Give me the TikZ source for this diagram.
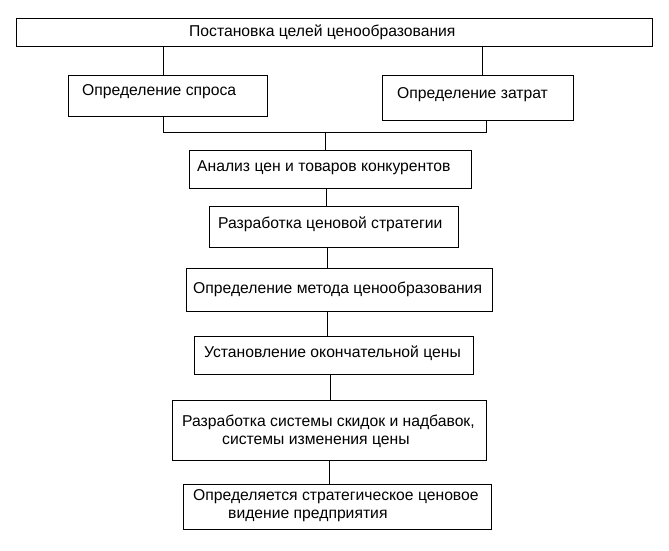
\documentclass[tikz,border=0pt]{standalone}
\usepackage{fontspec}
\setmainfont{Liberation Sans}
\usepackage{tikz}

\tikzset{
    blok/.style={draw,line width=1pt,inner sep=0pt,outer sep=0pt},
    tekst/.style={anchor=west,inner sep=0pt,align=left}
}

\begin{document}
\begin{tikzpicture}[x=1pt,y=-1pt,font=\fontsize{15.7}{18}\selectfont]
    \useasboundingbox (0,0) rectangle (669,550);

    % Рамки блоков.
    \node[blok,minimum width=636,minimum height=28] (cel) at (334,32) {};
    \node[blok,minimum width=199,minimum height=41] (spros) at (167.5,95.5) {};
    \node[blok,minimum width=191,minimum height=45] (zatr) at (477.5,97.5) {};
    \node[blok,minimum width=282,minimum height=38] (analiz) at (330,169) {};
    \node[blok,minimum width=249,minimum height=41] (strat) at (333.5,226.5) {};
    \node[blok,minimum width=306,minimum height=43] (metod) at (339,289.5) {};
    \node[blok,minimum width=279,minimum height=38] (cena) at (333.5,355) {};
    \node[blok,minimum width=314,minimum height=60] (skid) at (329,430) {};
    \node[blok,minimum width=308,minimum height=45] (vid) at (337,506.5) {};

    % Надписи.
    \node[tekst] (t-cel) at (189,32) {Постановка целей ценообразования};
    \node[tekst] (t-spros) at (82,92) {Определение спроса};
    \node[tekst] (t-zatr) at (397,95) {Определение затрат};
    \node[tekst] (t-analiz) at (197,168) {Анализ цен и товаров конкурентов};
    \node[tekst] (t-strat) at (218,224) {Разработка ценовой стратегии};
    \node[tekst] (t-metod) at (193,289) {Определение метода ценообразования};
    \node[tekst] (t-cena) at (204,353) {Установление окончательной цены};
    \node[tekst] (t-skid) at (182,431)
        {Разработка системы скидок и надбавок,\\\hspace*{40pt}системы изменения цены};
    \node[tekst] (t-vid) at (193,506)
        {Определяется стратегическое ценовое\\\hspace*{35pt}видение предприятия};

    % Связи.
    \coordinate (js) at (163,132);
    \coordinate (jz) at (486,132);
    \coordinate (jm) at (325,132);
    \draw[line width=1pt] (cel.south -| js) -- (spros.north -| js);
    \draw[line width=1pt] (cel.south -| 482,0) -- (zatr.north -| 482,0);
    \draw[line width=1pt] (spros.south -| js) -- (js) -- (jz) -- (zatr.south -| jz);
    \draw[line width=1pt] (jm) -- (analiz.north -| jm);
    \foreach \a/\b/\x in {analiz/strat/326,strat/metod/327,metod/cena/327,cena/skid/330,skid/vid/329}{
        \draw[line width=1pt] (\a.south -| \x,0) -- (\b.north -| \x,0);
    }
\end{tikzpicture}
\end{document}
